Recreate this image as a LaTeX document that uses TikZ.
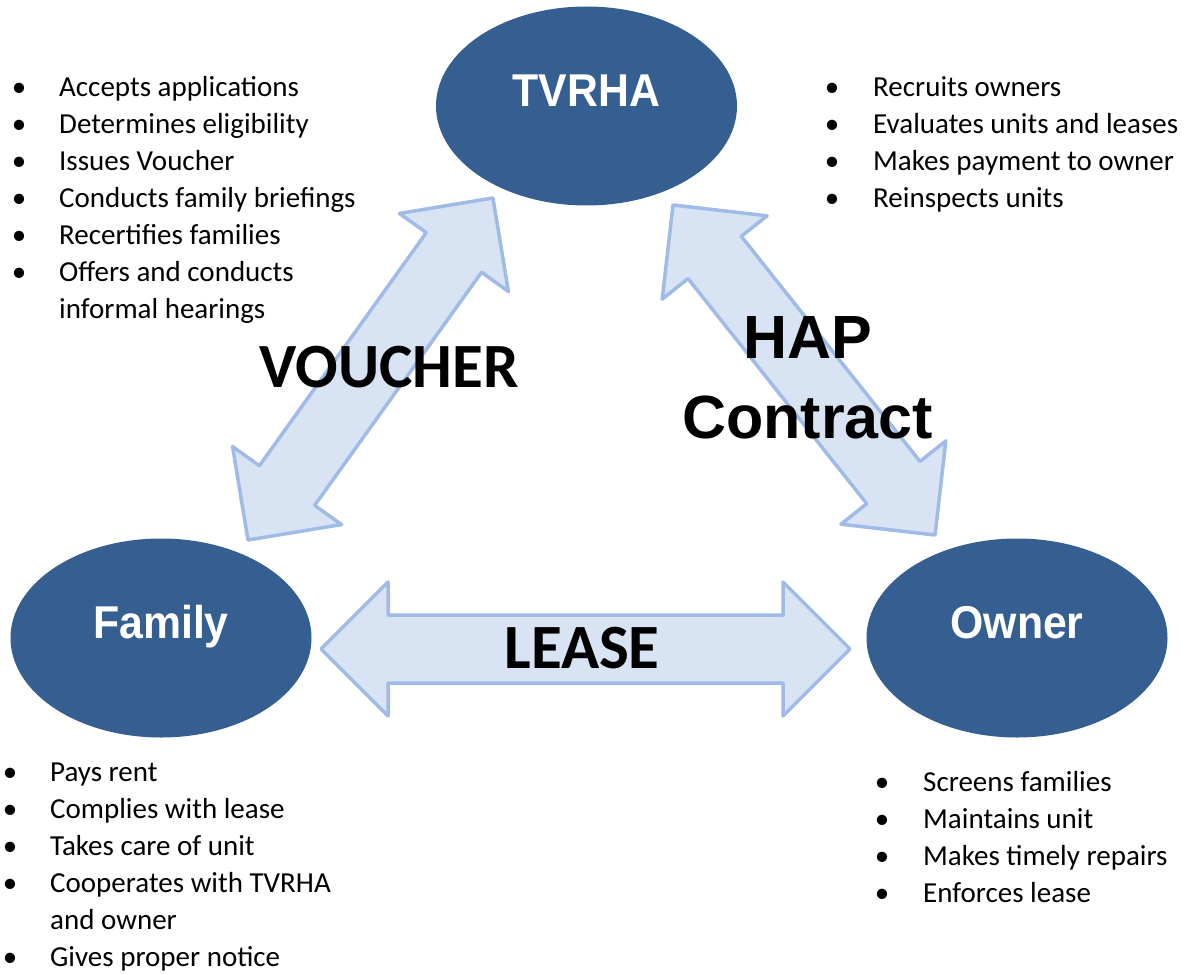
\documentclass[tikz,border=0pt]{standalone}
\usepackage{fontspec}
\setmainfont{Carlito}
\newfontfamily\arialfont{Liberation Sans}
\newfontfamily\ellfont[FakeStretch=0.93]{Liberation Sans}
\usetikzlibrary{shapes.geometric}
\definecolor{ellblue}{RGB}{54,95,145}
\definecolor{arrlight}{RGB}{216,227,244}
\definecolor{arrmid}{RGB}{186,204,236}
\definecolor{arredge}{RGB}{160,187,229}
\tikzset{
  party/.style={ellipse, fill=ellblue, minimum width=301pt, minimum height=199pt,
    inner sep=0pt, text=white, font=\ellfont\bfseries\fontsize{46}{46}\selectfont,
    text height=33pt, text depth=33pt},
  blockarr/.style={draw=arredge, line width=3.5pt, line join=round},
  biglabel/.style={inner sep=0pt, anchor=base, font=\bfseries\fontsize{63}{63}\selectfont},
  haplabel/.style={inner sep=0pt, anchor=base, font=\arialfont\bfseries\fontsize{61}{61}\selectfont},
  duties/.style={inner sep=0pt, anchor=base west, font=\fontsize{29}{37}\selectfont},
}
\newcommand\bul{\makebox[20pt][c]{\textbullet}}
% #1 tip coordinate, #2 angle, #3 length, #4 shading angle
\newcommand\blockarrow[4]{%
  \begin{scope}[shift={(#1)}, rotate=#2]
    \draw[blockarr, left color=arrlight, middle color=arrmid, right color=arrlight, shading angle=#4]
      (0,0) -- (67,67) -- (67,34) -- ({#3-67},34) -- ({#3-67},67) -- (#3,0)
      -- ({#3-67},-67) -- ({#3-67},-34) -- (67,-34) -- (67,-67) -- cycle;
  \end{scope}}
\begin{document}
\begin{tikzpicture}[x=1pt,y=1pt]
\useasboundingbox (0,0) rectangle (1196,-974);
\fill[white] (0,0) rectangle (1196,-974);

% arrows
\coordinate (vTip) at (248,-540);
\coordinate (hTip) at (673,-205);
\coordinate (lTip) at (321,-649);
\blockarrow{vTip}{54.39}{420.7}{144.39}
\blockarrow{hTip}{-51.55}{421.4}{38.45}
\blockarrow{lTip}{0}{529}{90}

% parties
\node[party] (tvrha) at (586.5,-106) {TVRHA};
\node[party] (family) at (161,-638) {Family};
\node[party] (owner) at (1017,-638) {Owner};

% relation labels
\node[biglabel] (voucher) at (389,-387) {VOUCHER};
\node[biglabel] (lease) at (582,-668) {LEASE};
\node[haplabel] (hap1) at (808,-358) {HAP};
\node[haplabel] (hap2) at (807.5,-438) {Contract};

% duty lists
\node[duties] (tvrhaList) at (9,-96.7) {\begin{tabular}[t]{@{}p{50pt}@{}l@{}}
\bul & Accepts applications\\
\bul & Determines eligibility\\
\bul & Issues Voucher\\
\bul & Conducts family briefings\\
\bul & Recertifies families\\
\bul & Offers and conducts\\
     & informal hearings
\end{tabular}};

\node[duties] (hapList) at (822,-96.7) {\begin{tabular}[t]{@{}p{51pt}@{}l@{}}
\bul & Recruits owners\\
\bul & Evaluates units and leases\\
\bul & Makes payment to owner\\
\bul & Reinspects units
\end{tabular}};

\node[duties] (familyList) at (0,-781.7) {\begin{tabular}[t]{@{}p{50pt}@{}l@{}}
\bul & Pays rent\\
\bul & Complies with lease\\
\bul & Takes care of unit\\
\bul & Cooperates with TVRHA\\
     & and owner\\
\bul & Gives proper notice
\end{tabular}};

\node[duties] (ownerList) at (872,-791.7) {\begin{tabular}[t]{@{}p{51pt}@{}l@{}}
\bul & Screens families\\
\bul & Maintains unit\\
\bul & Makes timely repairs\\
\bul & Enforces lease
\end{tabular}};
\end{tikzpicture}
\end{document}
